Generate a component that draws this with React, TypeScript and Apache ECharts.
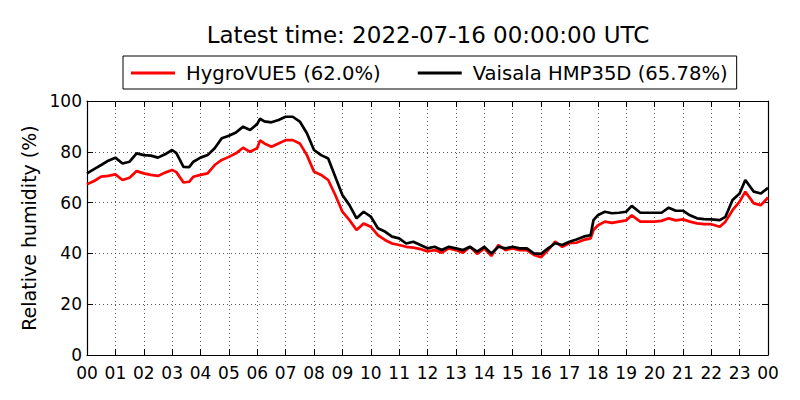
import React, { useEffect, useRef } from "react";
import * as echarts from "echarts";

const TITLE = "Latest time: 2022-07-16 00:00:00 UTC";
const SERIES_NAMES = ["HygroVUE5 (62.0%)", "Vaisala HMP35D (65.78%)"];
const Y_NAME = "Relative humidity (%)";

// hours since 00 UTC
const HOURS = [
  0, 0.25, 0.5, 0.75, 1, 1.25, 1.5, 1.75, 2, 2.25, 2.5, 2.75, 3, 3.15, 3.4, 3.6, 3.75,
  4, 4.25, 4.5, 4.75, 5, 5.25, 5.5, 5.75, 6, 6.1, 6.25, 6.5, 6.75, 7, 7.25, 7.5, 7.75,
  8, 8.25, 8.5, 8.75, 9, 9.25, 9.5, 9.75, 10, 10.25, 10.5, 10.75, 11, 11.25, 11.5, 11.75,
  12, 12.25, 12.5, 12.75, 13, 13.25, 13.5, 13.75, 14, 14.25, 14.5, 14.75, 15, 15.25, 15.5, 15.75,
  16, 16.25, 16.5, 16.75, 17, 17.25, 17.5, 17.75, 17.85,
  18, 18.25, 18.5, 18.75, 19, 19.2, 19.5, 19.75, 20, 20.25, 20.5, 20.75, 21, 21.25, 21.5, 21.75,
  22, 22.3, 22.5, 22.75, 23, 23.2, 23.5, 23.75, 24,
];

const HYGROVUE = [
  67.2, 68.5, 70.2, 70.5, 71.1, 68.9, 69.8, 72.4, 71.5, 70.9, 70.5, 71.8, 72.8, 72.0, 67.9, 68.2, 70.2,
  70.9, 71.5, 74.8, 76.8, 78.0, 79.4, 81.6, 80.0, 81.5, 84.5, 83.3, 82.0, 83.3, 84.6, 84.6, 83.3, 78.7,
  72.2, 70.9, 68.9, 63.0, 56.4, 53.1, 49.2, 51.8, 50.5, 47.2, 45.3, 43.9, 43.3, 42.6, 42.3, 41.7,
  40.8, 41.3, 40.3, 42.0, 41.3, 40.3, 42.6, 39.8, 42.0, 39.0, 43.3, 41.3, 42.0, 41.3, 41.3, 39.4,
  38.5, 41.3, 44.6, 42.6, 44.0, 44.2, 45.3, 45.9, 49.2,
  51.0, 52.5, 52.0, 52.5, 53.0, 55.0, 52.5, 52.5, 52.5, 52.8, 53.8, 53.0, 53.4, 52.5, 51.8, 51.5,
  51.5, 50.5, 52.5, 57.0, 60.4, 64.3, 59.7, 59.0, 62.0,
];

const VAISALA = [
  71.5, 73.2, 74.8, 76.5, 77.7, 75.4, 76.1, 79.4, 78.7, 78.5, 77.7, 79.0, 80.7, 79.5, 74.1, 74.0, 76.1,
  77.7, 78.7, 81.4, 85.3, 86.3, 87.6, 89.9, 88.6, 91.0, 93.0, 92.0, 91.6, 92.5, 93.8, 93.8, 91.9, 87.3,
  80.7, 78.7, 77.4, 70.2, 63.0, 59.0, 53.8, 56.4, 54.5, 49.9, 48.6, 46.6, 45.9, 43.9, 44.6, 43.3,
  42.0, 42.6, 41.3, 42.6, 42.0, 41.3, 42.6, 40.7, 42.6, 40.0, 42.6, 42.0, 42.6, 42.0, 42.0, 40.0,
  39.8, 42.0, 44.0, 43.3, 44.6, 45.5, 46.6, 47.2, 53.1,
  55.0, 56.4, 55.8, 56.0, 56.4, 58.7, 56.0, 56.0, 56.0, 56.0, 58.0, 56.8, 56.8, 55.0, 53.8, 53.5,
  53.4, 53.1, 54.4, 61.0, 63.6, 68.9, 64.3, 63.6, 65.78,
];

const X_MIN = 0;
const X_MAX = 24;
const X_STEP = 1;
const Y_MIN = 0;
const Y_MAX = 100;
const Y_STEP = 20;

const FONT = "DejaVu Sans";

export default function App() {
  const ref = useRef<HTMLDivElement>(null);

  useEffect(() => {
    if (!ref.current) return;
    const chart = echarts.init(ref.current, undefined, { renderer: "svg" });

    const axisLine = { show: true, onZero: false, lineStyle: { color: "#000", width: 1.2 } };
    const axisTick = { show: true, inside: true, length: 6, lineStyle: { color: "#000", width: 1 } };
    const gridLine = { show: true, lineStyle: { type: [1, 3], color: "#333", width: 0.8 } };

    const xFmt = (v: number) => String(Math.round(v) % 24).padStart(2, "0");

    chart.setOption({
      animation: false,
      backgroundColor: "#fff",
      textStyle: { fontFamily: FONT },
      grid: { left: 87, right: 32, top: 101, bottom: 45, containLabel: false },
      graphic: [
        {
          type: "text",
          x: 428,
          y: 35,
          style: {
            text: TITLE,
            fontSize: 23,
            fontFamily: FONT,
            fill: "#000",
            align: "center",
            verticalAlign: "middle",
          },
        },
      ],
      legend: {
        left: 123,
        top: 56,
        orient: "horizontal",
        borderColor: "#000",
        borderWidth: 1,
        borderRadius: 0,
        padding: [7, 9, 6, 8],
        icon: "rect",
        itemWidth: 44,
        itemHeight: 3,
        itemGap: 37,
        textStyle: { fontSize: 19.6, fontFamily: FONT, color: "#000", padding: [0, 0, 0, 6] },
        data: SERIES_NAMES,
      },
      xAxis: [
        {
          type: "value",
          min: X_MIN,
          max: X_MAX,
          interval: X_STEP,
          position: "bottom",
          axisLine,
          axisTick,
          axisLabel: {
            formatter: xFmt,
            fontSize: 17,
            color: "#000",
            margin: 9,
            fontFamily: FONT,
          },
          splitLine: gridLine,
        },
        {
          type: "value",
          min: X_MIN,
          max: X_MAX,
          interval: X_STEP,
          position: "top",
          axisLine,
          axisTick,
          axisLabel: { show: false },
          splitLine: { show: false },
        },
      ],
      yAxis: [
        {
          type: "value",
          min: Y_MIN,
          max: Y_MAX,
          interval: Y_STEP,
          position: "left",
          name: Y_NAME,
          nameLocation: "middle",
          nameGap: 48,
          nameTextStyle: { fontSize: 19, color: "#000", fontFamily: FONT },
          axisLine,
          axisTick,
          axisLabel: { fontSize: 17, color: "#000", margin: 5, fontFamily: FONT },
          splitLine: gridLine,
        },
        {
          type: "value",
          min: Y_MIN,
          max: Y_MAX,
          interval: Y_STEP,
          position: "right",
          axisLine,
          axisTick,
          axisLabel: { show: false },
          splitLine: { show: false },
        },
      ],
      series: [
        {
          name: SERIES_NAMES[0],
          type: "line",
          xAxisIndex: 0,
          yAxisIndex: 0,
          symbol: "none",
          showSymbol: false,
          color: "#ff0000",
          lineStyle: { color: "#ff0000", width: 2.7 },
          data: HOURS.map((h, i) => [h, HYGROVUE[i]]),
        },
        {
          name: SERIES_NAMES[1],
          type: "line",
          xAxisIndex: 0,
          yAxisIndex: 0,
          symbol: "none",
          showSymbol: false,
          color: "#000000",
          lineStyle: { color: "#000000", width: 2.7 },
          data: HOURS.map((h, i) => [h, VAISALA[i]]),
        },
      ],
    });

    return () => chart.dispose();
  }, []);

  return (
    <div
      ref={ref}
      style={{ position: "absolute", left: 0, top: 0, width: 800, height: 400 }}
    />
  );
}
